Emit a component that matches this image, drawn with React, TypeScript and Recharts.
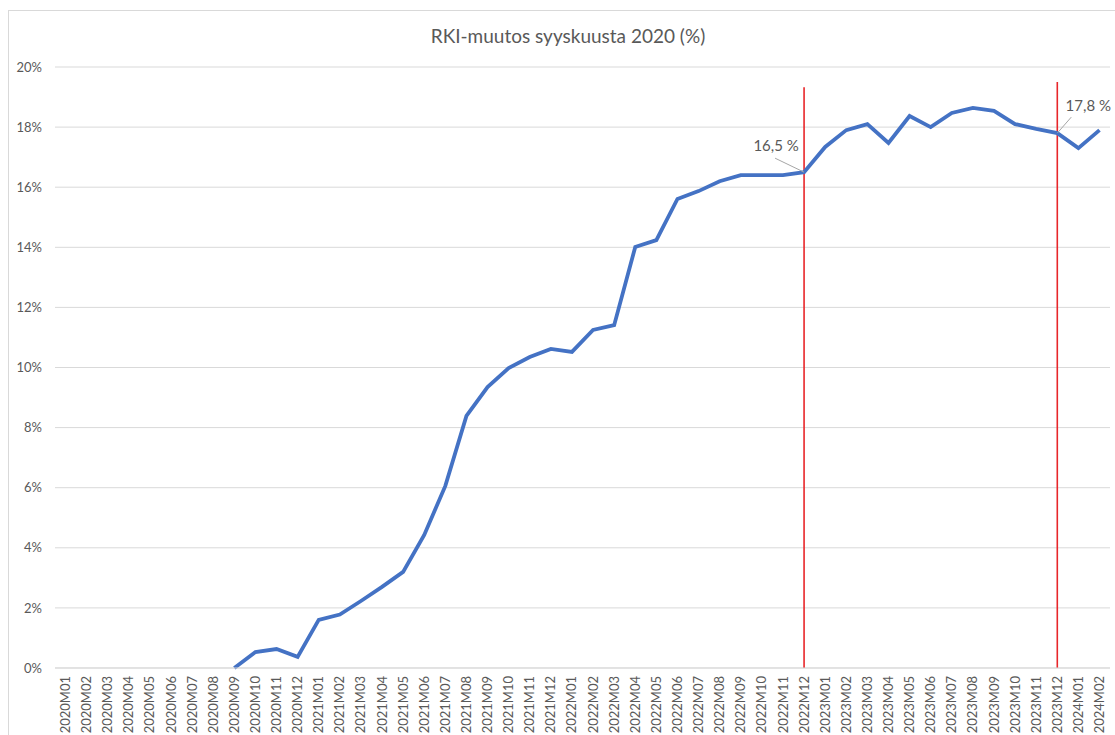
import React from 'react';
import { LineChart, Line, XAxis, YAxis, CartesianGrid, ReferenceLine, LabelList } from 'recharts';

const categories = [
  '2020M01','2020M02','2020M03','2020M04','2020M05','2020M06','2020M07','2020M08','2020M09','2020M10','2020M11','2020M12',
  '2021M01','2021M02','2021M03','2021M04','2021M05','2021M06','2021M07','2021M08','2021M09','2021M10','2021M11','2021M12',
  '2022M01','2022M02','2022M03','2022M04','2022M05','2022M06','2022M07','2022M08','2022M09','2022M10','2022M11','2022M12',
  '2023M01','2023M02','2023M03','2023M04','2023M05','2023M06','2023M07','2023M08','2023M09','2023M10','2023M11','2023M12',
  '2024M01','2024M02',
];

const values: (number | null)[] = [
  null, null, null, null, null, null, null, null, 0, 0.53, 0.63, 0.37,
  1.6, 1.78, 2.23, 2.7, 3.2, 4.43, 6.06, 8.39, 9.35, 9.98, 10.35, 10.62,
  10.52, 11.25, 11.41, 14.01, 14.24, 15.61, 15.87, 16.2, 16.4, 16.4, 16.4, 16.5,
  17.34, 17.9, 18.1, 17.47, 18.37, 18.0, 18.47, 18.64, 18.54, 18.1, 17.94, 17.8,
  17.3, 17.9,
];

const yTicks = [0, 2, 4, 6, 8, 10, 12, 14, 16, 18, 20];

const markerCategories = ['2022M12', '2023M12'];
const markerTops = [19.33, 19.5];
const annotatedLabels: Record<string, string> = { '2022M12': '16,5 %', '2023M12': '17,8 %' };

const data = categories.map((c, i) => ({ month: c, value: values[i] }));

const FONT = 'Lato, "Open Sans", sans-serif';
const TEXT = '#595959';

const XTick = (props: any) => {
  const { x, y, payload } = props;
  return (
    <text
      x={x}
      y={y}
      dy="0.35em"
      transform={`rotate(-90, ${x}, ${y})`}
      textAnchor="end"
      fill={TEXT}
      fontSize={13}
      fontFamily={FONT}
    >
      {payload.value}
    </text>
  );
};

const AnnotationLabel = (props: any) => {
  const { x, y, index } = props;
  const cat = categories[index];
  const txt = annotatedLabels[cat];
  if (!txt || x == null || y == null) return null;
  if (cat === '2022M12') {
    return (
      <g>
        <line x1={x - 29} y1={y - 14} x2={x} y2={y} stroke="#a6a6a6" strokeWidth={1} />
        <text x={x - 28} y={y - 27} textAnchor="middle" dominantBaseline="central" fill={TEXT} fontSize={15} fontFamily={FONT}>
          {txt}
        </text>
      </g>
    );
  }
  return (
    <g>
      <line x1={x + 14} y1={y - 16} x2={x} y2={y} stroke="#a6a6a6" strokeWidth={1} />
      <text x={x + 31} y={y - 28} textAnchor="middle" dominantBaseline="central" fill={TEXT} fontSize={15} fontFamily={FONT}>
        {txt}
      </text>
    </g>
  );
};

export default function App() {
  return (
    <div style={{ position: 'absolute', left: 0, top: 0, width: 1115, height: 735, overflow: 'hidden', background: '#fff' }}>
      <div
        style={{
          position: 'absolute',
          left: 8,
          top: 10,
          width: 1120,
          height: 740,
          border: '1px solid #d9d9d9',
        }}
      />
      <div
        style={{
          position: 'absolute',
          left: 0,
          top: 24,
          width: 1136,
          textAlign: 'center',
          fontFamily: FONT,
          fontSize: 19,
          color: TEXT,
        }}
      >
        RKI-muutos syyskuusta 2020 (%)
      </div>
      <div style={{ position: 'absolute', left: 0, top: 0 }}>
        <LineChart width={1115} height={735} data={data} margin={{ top: 67, right: 5, bottom: 0, left: 0 }}>
          <CartesianGrid horizontal vertical={false} stroke="#d9d9d9" strokeWidth={1} />
          <XAxis
            dataKey="month"
            interval={0}
            height={67}
            padding={{ left: 10.5, right: 10.5 }}
            tickLine={false}
            axisLine={{ stroke: '#d9d9d9' }}
            tickSize={0}
            tickMargin={8}
            tick={<XTick />}
          />
          <YAxis
            domain={[0, 20]}
            ticks={yTicks}
            width={55}
            axisLine={false}
            tickLine={false}
            tickSize={0}
            tickMargin={13}
            tickFormatter={(v: number) => `${v}%`}
            tick={{ fill: TEXT, fontSize: 13, fontFamily: FONT }}
          />
          {markerCategories.map((c, i) => (
            <ReferenceLine
              key={c}
              segment={[
                { x: c, y: 0 },
                { x: c, y: markerTops[i] },
              ]}
              stroke="#e8262a"
              strokeWidth={1.6}
              ifOverflow="visible"
            />
          ))}
          <Line
            type="linear"
            dataKey="value"
            stroke="#4472c4"
            strokeWidth={3.8}
            dot={false}
            activeDot={false}
            isAnimationActive={false}
            connectNulls={false}
          >
            <LabelList dataKey="value" content={<AnnotationLabel />} />
          </Line>
        </LineChart>
      </div>
    </div>
  );
}
